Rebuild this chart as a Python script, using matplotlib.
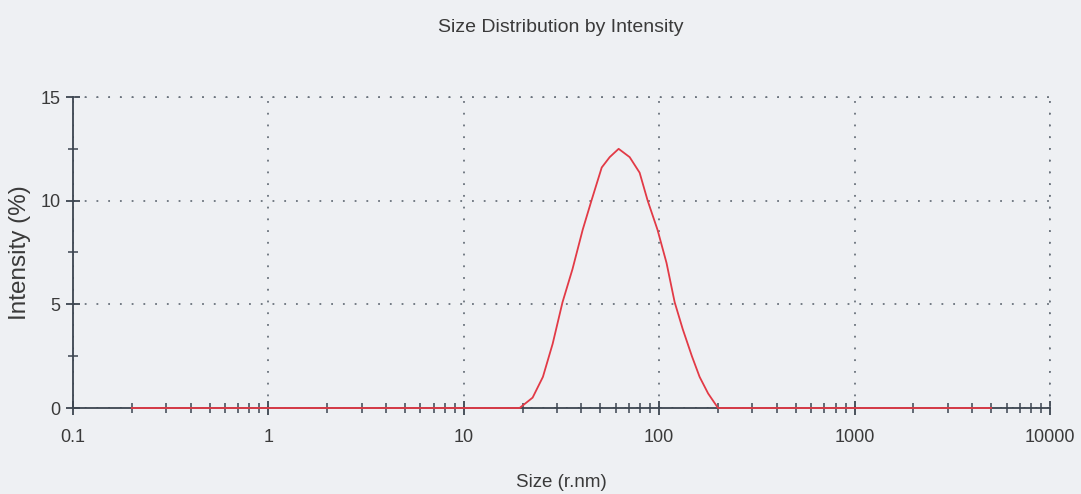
import matplotlib
matplotlib.use("Agg")
import matplotlib.pyplot as plt
from matplotlib.ticker import LogLocator, FixedLocator, NullFormatter

plt.rcParams['font.family'] = ['Liberation Sans', 'DejaVu Sans']

# Data
size_nm = [0.2, 19.3, 22.5, 25.4, 28.5, 32.0, 36.0, 40.6, 45.0, 50.8, 55.8, 62.0,
           70.6, 79.4, 87.3, 98.0, 109.0, 120.0, 132.0, 147.0, 161.0, 178.0, 200.0, 5000.0]
intensity = [0, 0, 0.5, 1.5, 3.1, 5.1, 6.7, 8.6, 10.0, 11.6, 12.1, 12.5,
             12.1, 11.35, 10.0, 8.6, 7.0, 5.1, 3.8, 2.5, 1.5, 0.7, 0, 0]
x_ticks = [0.1, 1, 10, 100, 1000, 10000]
x_tick_labels = ["0.1", "1", "10", "100", "1000", "10000"]
y_ticks = [0, 5, 10, 15]
y_minor = [2.5, 7.5, 12.5]

bg = "#eef0f3"
axis_col = "#3c4550"
text_col = "#3a3a3a"
grid_col = "#6a727c"

fig = plt.figure(figsize=(10.81, 4.94), dpi=100, facecolor=bg)
ax = fig.add_axes([73/1081, 1-408/494, (1050-73)/1081, (408-97)/494], facecolor=bg)

ax.set_xscale('log')
ax.set_xlim(0.1, 10000)
ax.set_ylim(0, 15)

ax.plot(size_nm, intensity, color="#e23a46", lw=1.3, zorder=5, clip_on=False)

for s in ['top', 'right']:
    ax.spines[s].set_visible(False)
for s in ['left', 'bottom']:
    ax.spines[s].set_color(axis_col)
    ax.spines[s].set_linewidth(1.3)

ax.set_xticks(x_ticks)
ax.set_xticklabels(x_tick_labels)
ax.xaxis.set_minor_locator(LogLocator(base=10, subs=range(2, 10)))
ax.xaxis.set_minor_formatter(NullFormatter())
ax.set_yticks(y_ticks)
ax.yaxis.set_minor_locator(FixedLocator(y_minor))

ax.tick_params(axis='both', which='major', direction='inout', length=10, width=1.3,
               color=axis_col, labelsize=13, labelcolor=text_col, pad=4)
ax.tick_params(axis='both', which='minor', direction='inout', length=7, width=1.1,
               color=axis_col)
ax.tick_params(axis='x', which='major', pad=10)

ax.grid(True, which='major', color=grid_col, linestyle=(0, (1, 5.5)), linewidth=1.3)
ax.set_axisbelow(True)

ax.axvline(10000, color=grid_col, linestyle=(0, (1, 5.5)), linewidth=1.3, clip_on=False)
ax.axhline(15, color=grid_col, linestyle=(0, (1, 5.5)), linewidth=1.3, clip_on=False)

fig.text(561/1081, 1-27/494, "Size Distribution by Intensity", ha='center', va='center',
         fontsize=14, color=text_col)
ax.set_xlabel("Size (r.nm)", fontsize=13.5, color=text_col, labelpad=20)
ax.set_ylabel("Intensity (%)", fontsize=17.5, color=text_col, labelpad=7)

fig.savefig("out.png", dpi=100, facecolor=bg)
